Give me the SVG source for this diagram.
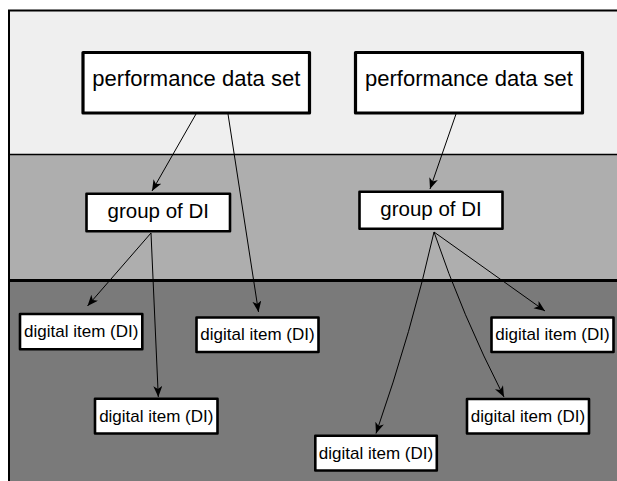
<svg xmlns="http://www.w3.org/2000/svg" width="617" height="481" viewBox="0 0 617 481">
  <defs>
    <marker id="arrow" markerUnits="userSpaceOnUse" markerWidth="12" markerHeight="10" refX="11" refY="4.5" orient="auto">
      <path d="M0,0 L11,4.5 L0,9 L3,4.5 z" fill="#000"/>
    </marker>
  </defs>
  <style>
    .node rect { fill: #fff; stroke: #000; stroke-linejoin: round; }
    .big rect { stroke-width: 3.2; }
    .mid rect, .small rect { stroke-width: 2.6; }
    text { font-family: "Liberation Sans", Arial, sans-serif; fill: #000; text-anchor: middle; }
    .big text { font-size: 22px; }
    .mid text { font-size: 20.5px; }
    .small text { font-size: 17px; }
    .edge { fill: none; stroke: #000; stroke-width: 1; marker-end: url(#arrow); }
  </style>

  <!-- layer bands -->
  <g id="bands">
    <rect x="9" y="10.5" width="610" height="144" fill="#efefef"/>
    <rect x="9" y="154.5" width="610" height="126" fill="#aeaeae"/>
    <rect x="9" y="280.5" width="610" height="202" fill="#7a7a7a"/>
    <line x1="9" y1="154.5" x2="617" y2="154.5" stroke="#000" stroke-width="1.6"/>
    <line x1="8" y1="280.5" x2="617" y2="280.5" stroke="#000" stroke-width="3"/>
    <path d="M9,482 L9,10.5 L617,10.5" fill="none" stroke="#000" stroke-width="2"/>
  </g>

  <!-- connectors -->
  <g id="connectors">
    <line class="edge" x1="196" y1="114" x2="152" y2="191"/>
    <line class="edge" x1="228" y1="114" x2="258.5" y2="312"/>
    <line class="edge" x1="456" y1="114" x2="430" y2="189"/>
    <line class="edge" x1="151" y1="233" x2="87.5" y2="306"/>
    <line class="edge" x1="151" y1="233" x2="158.3" y2="397"/>
    <line class="edge" x1="434" y1="232" x2="545" y2="311"/>
    <path class="edge" d="M434,232 Q462,315 504,397"/>
    <path class="edge" d="M434,232 Q412,330 376,433.5"/>
  </g>

  <!-- performance data sets -->
  <g id="pds1" class="node big">
    <rect x="83" y="52.5" width="226.5" height="60.5"/>
    <text x="196.3" y="86">performance data set</text>
  </g>
  <g id="pds2" class="node big">
    <rect x="355.5" y="52.5" width="227" height="60.5"/>
    <text x="469" y="86">performance data set</text>
  </g>

  <!-- groups of digital items -->
  <g id="group1" class="node mid">
    <rect x="86.5" y="193.8" width="143.5" height="37.5"/>
    <text x="158.3" y="218.3">group of DI</text>
  </g>
  <g id="group2" class="node mid">
    <rect x="359.5" y="191.8" width="143" height="37"/>
    <text x="431" y="216.3">group of DI</text>
  </g>

  <!-- digital items -->
  <g id="di1" class="node small">
    <rect x="20" y="314" width="122.3" height="35.3"/>
    <text x="81.2" y="337">digital item (DI)</text>
  </g>
  <g id="di2" class="node small">
    <rect x="196.5" y="317.5" width="122" height="34.5"/>
    <text x="257.5" y="340">digital item (DI)</text>
  </g>
  <g id="di3" class="node small">
    <rect x="491.5" y="317.5" width="122" height="34.5"/>
    <text x="552.5" y="340">digital item (DI)</text>
  </g>
  <g id="di4" class="node small">
    <rect x="95" y="398.8" width="122.5" height="34.7"/>
    <text x="156.3" y="421.7">digital item (DI)</text>
  </g>
  <g id="di5" class="node small">
    <rect x="467" y="399" width="122" height="34.5"/>
    <text x="528" y="421.7">digital item (DI)</text>
  </g>
  <g id="di6" class="node small">
    <rect x="315.3" y="435.8" width="121.5" height="34.7"/>
    <text x="376" y="458.5">digital item (DI)</text>
  </g>
</svg>
